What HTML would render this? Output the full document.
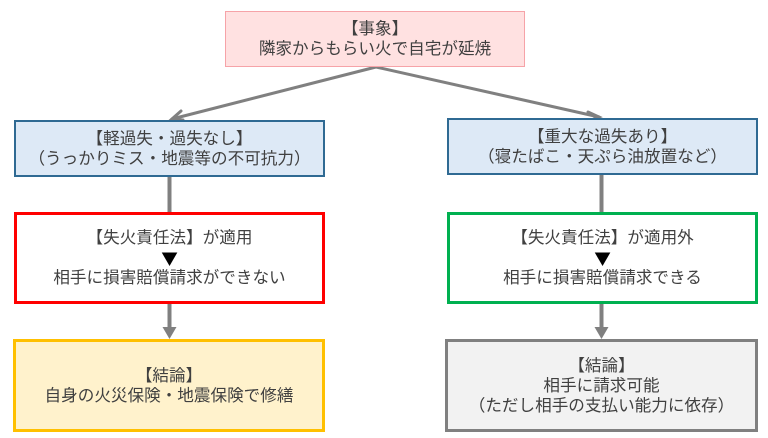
<!DOCTYPE html>
<html><head><meta charset="utf-8">
<style>
html,body{margin:0;padding:0;background:#fff;}
body{width:768px;height:438px;position:relative;overflow:hidden;font-family:"Liberation Sans","Noto Sans CJK JP",sans-serif;color:#404040;}
.b{position:absolute;box-sizing:border-box;display:flex;flex-direction:column;align-items:center;justify-content:center;text-align:center;font-size:16.6px;line-height:20px;white-space:nowrap;}
.tri{font-family:"Noto Sans CJK JP",sans-serif;color:#000;font-size:16.6px;line-height:20px;}
svg{position:absolute;left:0;top:0;}
</style></head><body>
<svg width="768" height="438" viewBox="0 0 768 438">
  <g stroke="#808080" stroke-width="3" fill="none" stroke-linecap="round">
    <line x1="376" y1="67" x2="172" y2="119"/>
    <line x1="376" y1="67" x2="599" y2="117"/>
    <polyline points="181,111 172,119 183,120"/>
    <polyline points="588,112 599,117 589,121"/>
  </g>
  <g stroke="#808080" stroke-width="4" fill="none">
    <line x1="169.5" y1="176" x2="169.5" y2="213"/>
    <line x1="601.5" y1="174" x2="601.5" y2="213"/>
    <line x1="169.5" y1="304" x2="169.5" y2="330"/>
    <line x1="601.5" y1="304" x2="601.5" y2="330"/>
  </g>
  <g fill="#808080">
    <polygon points="162.5,327 176.5,327 169.5,339"/>
    <polygon points="594.5,327 608.5,327 601.5,339"/>
  </g>
</svg>

<div class="b" style="left:225px;top:11px;width:300px;height:56px;background:#ffe1e1;border:1.5px solid #f6a3a8;">
  <div>【事象】</div><div>隣家からもらい火で自宅が延焼</div>
</div>

<div class="b" style="left:14px;top:120px;width:311px;height:57px;background:#dde9f6;border:2px solid #2f6a93;">
  <div>【軽過失・過失なし】</div><div>（うっかりミス・地震等の不可抗力）</div>
</div>

<div class="b" style="left:447px;top:118px;width:311px;height:57px;background:#dde9f6;border:2px solid #2f6a93;">
  <div>【重大な過失あり】</div><div>（寝たばこ・天ぷら油放置など）</div>
</div>

<div class="b" style="left:14px;top:212px;width:311px;height:92px;background:#fff;border:3px solid #ff0000;">
  <div>【失火責任法】が適用</div><div class="tri">▼</div><div>相手に損害賠償請求ができない</div>
</div>

<div class="b" style="left:447px;top:212px;width:311px;height:92px;background:#fff;border:3px solid #00b050;">
  <div>【失火責任法】が適用外</div><div class="tri">▼</div><div>相手に損害賠償請求できる</div>
</div>

<div class="b" style="left:13px;top:339px;width:312px;height:93px;background:#fff2cc;border:3px solid #ffc000;">
  <div>【結論】</div><div>自身の火災保険・地震保険で修繕</div>
</div>

<div class="b" style="left:445px;top:339px;width:313px;height:93px;background:#f2f2f2;border:3px solid #808080;">
  <div>【結論】</div><div>相手に請求可能</div><div>（ただし相手の支払い能力に依存）</div>
</div>
</body></html>
